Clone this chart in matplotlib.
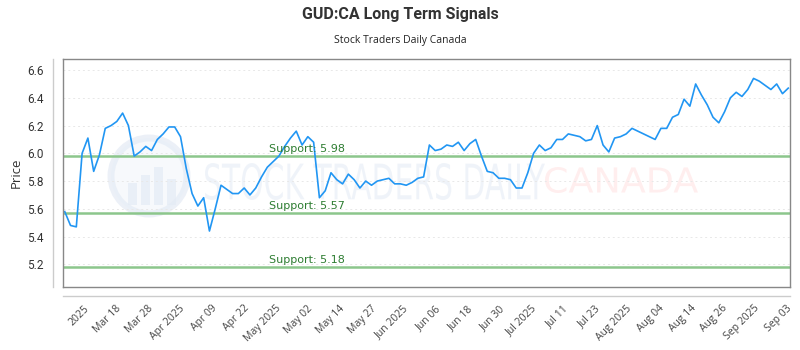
import numpy as np
import matplotlib
matplotlib.use('Agg')
import matplotlib.pyplot as plt
from matplotlib.textpath import TextPath
from matplotlib.font_manager import FontProperties
from matplotlib.patches import PathPatch, Circle, Rectangle
from matplotlib.transforms import Affine2D
from matplotlib.lines import Line2D

# 종가 데이터
prices = [5.58, 5.48, 5.47, 6.00, 6.11, 5.87, 5.99, 6.18, 6.20, 6.23,
          6.29, 6.20, 5.98, 6.01, 6.05, 6.02, 6.10, 6.14, 6.19, 6.19,
          6.12, 5.89, 5.71, 5.62, 5.68, 5.44, 5.60, 5.77, 5.74, 5.71,
          5.71, 5.75, 5.70, 5.75, 5.83, 5.90, 5.94, 5.98, 6.05, 6.11,
          6.16, 6.06, 6.12, 6.08, 5.68, 5.73, 5.86, 5.81, 5.78, 5.85,
          5.81, 5.75, 5.80, 5.77, 5.80, 5.81, 5.82, 5.78, 5.78, 5.77,
          5.79, 5.82, 5.83, 6.06, 6.02, 6.03, 6.06, 6.05, 6.08, 6.02,
          6.07, 6.10, 5.98, 5.87, 5.86, 5.82, 5.82, 5.81, 5.75, 5.75,
          5.86, 6.00, 6.06, 6.02, 6.04, 6.10, 6.10, 6.14, 6.13, 6.12,
          6.09, 6.10, 6.20, 6.06, 6.01, 6.11, 6.12, 6.14, 6.18, 6.16,
          6.14, 6.12, 6.10, 6.18, 6.18, 6.26, 6.28, 6.39, 6.34, 6.50,
          6.42, 6.35, 6.26, 6.22, 6.30, 6.40, 6.44, 6.41, 6.46, 6.54,
          6.52, 6.49, 6.46, 6.50, 6.43, 6.47]

# 지지선
supports = [5.98, 5.57, 5.18]

# x축 라벨
tick_labels = ['2025', 'Mar 18', 'Mar 28', 'Apr 2025', 'Apr 09', 'Apr 22',
               'May 2025', 'May 02', 'May 14', 'May 27', 'Jun 2025', 'Jun 06',
               'Jun 18', 'Jun 30', 'Jul 2025', 'Jul 11', 'Jul 23', 'Aug 2025',
               'Aug 04', 'Aug 14', 'Aug 26', 'Sep 2025', 'Sep 03']

W, H = 800, 350
fig = plt.figure(figsize=(8, 3.5), dpi=100)
ax = fig.add_axes([63 / W, 1 - 286.5 / H, 727 / W, 227.5 / H])

x = np.arange(len(prices))
ax.set_xlim(-0.3, len(prices) - 0.7)
ax.set_ylim(5.04, 6.68)

# 워터마크 (픽셀 좌표로 늘려서 그림)
def stretch_text(s, x0, x1, y0, y1, color, alpha, family='DejaVu Sans', weight='normal'):
    fp = FontProperties(family=family, weight=weight)
    tp = TextPath((0, 0), s, size=1, prop=fp)
    bb = tp.get_extents()
    sx = (x1 - x0) / bb.width / W
    sy = (y1 - y0) / bb.height / H
    tr = (Affine2D().translate(-bb.x0, -bb.y0).scale(sx, sy)
          .translate(x0 / W, 1 - y1 / H) + fig.transFigure)
    ax.add_patch(PathPatch(tp, transform=tr, fc=color, ec='none',
                           alpha=alpha, zorder=0.5))

stretch_text('STOCK TRADERS DAILY', 205, 545, 163, 200, '#c9d7ea', 0.28)
stretch_text('CANADA', 545, 698, 167, 193, '#ffb3b3', 0.22)

# 로고 원
pix = Affine2D().scale(1 / W, 1 / H) + fig.transFigure
ax.add_patch(Circle((149, H - 176), 38, transform=pix, fc='#f4f7fc',
                    ec='#e4ebf5', lw=5, alpha=0.7, zorder=0.4))
for bx, bh in [(128, 22), (141, 30), (154, 38), (167, 26)]:
    ax.add_patch(Rectangle((bx, H - 205), 9, bh, transform=pix,
                           fc='#e4ebf5', ec='none', alpha=0.7, zorder=0.45))

# 그리드
ax.set_yticks([5.2, 5.4, 5.6, 5.8, 6.0, 6.2, 6.4, 6.6])
ax.yaxis.grid(True, color='#e8e8e8', linestyle=(0, (2, 3)), linewidth=0.7)
ax.set_axisbelow(True)

# 지지선 + 라벨
for s in supports:
    ax.axhline(s, color='#8cc68c', linewidth=1.8, zorder=1)
    ax.text(35.3, s + 0.012, 'Support: %.2f' % s, color='#2e7d32',
            fontsize=8, ha='left', va='bottom', zorder=3)

ax.plot(x, prices, color='#2196f3', linewidth=1.2, zorder=2)

# x 라벨
tick_pos = np.linspace(3.3, 124.6, len(tick_labels))
ax.set_xticks(tick_pos)
ax.set_xticklabels(tick_labels, rotation=45, ha='right', rotation_mode='anchor',
                   fontsize=7.5, color='#444444', family='Open Sans')
ax.tick_params(axis='x', length=0, pad=12)
ax.tick_params(axis='y', length=0, pad=14, labelsize=8.5, labelcolor='#333333')
for lab in ax.get_yticklabels():
    lab.set_family('Roboto')

for sp in ax.spines.values():
    sp.set_color('#888888')
    sp.set_linewidth(1)

ax.set_ylabel('Price', fontsize=9.5, color='#333333', family='Open Sans', labelpad=3)

# 바깥 회색 선
fig.add_artist(Line2D([63 / W, 790 / W], [1 - 296 / H, 1 - 296 / H],
                      color='#cccccc', linewidth=1, transform=fig.transFigure))
fig.add_artist(Line2D([53 / W, 53 / W], [1 - 59 / H, 1 - 287 / H],
                      color='#cccccc', linewidth=1, transform=fig.transFigure))

fig.text(0.5, 1 - 15 / H, 'GUD:CA Long Term Signals', ha='center', va='center',
         fontsize=11.5, fontweight='bold', family='Roboto', color='#333333')
fig.text(0.5, 1 - 40 / H, 'Stock Traders Daily Canada', ha='center', va='center',
         fontsize=7.5, family='Open Sans', color='#222222')

plt.savefig('out.png', dpi=100)
